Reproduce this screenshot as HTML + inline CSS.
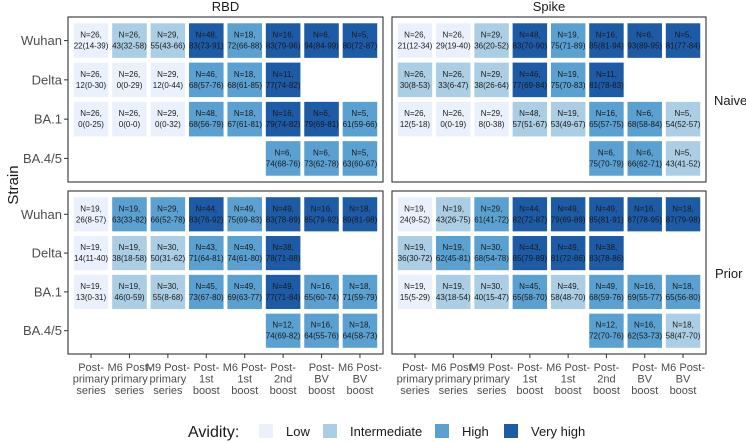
<!DOCTYPE html>
<html><head><meta charset="utf-8"><style>
body{margin:0;background:#fff}
svg{display:block;font-family:"Liberation Sans",Arial,sans-serif}
</style></head><body>
<svg id="chart" width="746" height="442" viewBox="0 0 746 442" xmlns="http://www.w3.org/2000/svg"></svg>
<script>
const strains = ["Wuhan","Delta","BA.1","BA.4/5"];
const timepoints = [["Post-","primary","series"],["M6 Post-","primary","series"],["M9 Post-","primary","series"],["Post-","1st","boost"],["M6 Post-","1st","boost"],["Post-","2nd","boost"],["Post-","BV","boost"],["M6 Post-","BV","boost"]];
const avidityLevels = ["Low","Intermediate","High","Very high"];
// each cell: [strainIndex, timepointIndex, N, label, levelIndex]
const rbdNaive = [
[0,0,26,"22(14-39)",0],[0,1,26,"43(32-58)",1],[0,2,29,"55(43-66)",1],[0,3,48,"83(73-91)",3],[0,4,18,"72(66-88)",2],[0,5,16,"83(79-96)",3],[0,6,6,"94(84-99)",3],[0,7,5,"80(72-87)",3],
[1,0,26,"12(0-30)",0],[1,1,26,"0(0-29)",0],[1,2,29,"12(0-44)",0],[1,3,46,"68(57-76)",2],[1,4,18,"68(61-85)",2],[1,5,11,"77(74-82)",3],
[2,0,26,"0(0-25)",0],[2,1,26,"0(0-0)",0],[2,2,29,"0(0-32)",0],[2,3,48,"68(56-79)",2],[2,4,18,"67(61-81)",2],[2,5,16,"79(74-82)",3],[2,6,6,"79(69-81)",3],[2,7,5,"61(59-66)",2],
[3,5,6,"74(68-76)",2],[3,6,6,"73(62-78)",2],[3,7,5,"63(60-67)",2]];
const rbdPrior = [
[0,0,19,"26(8-57)",0],[0,1,19,"63(33-82)",2],[0,2,29,"66(52-78)",2],[0,3,44,"83(76-92)",3],[0,4,49,"75(69-83)",2],[0,5,49,"83(78-89)",3],[0,6,16,"85(79-92)",3],[0,7,18,"89(81-98)",3],
[1,0,19,"14(11-40)",0],[1,1,19,"38(18-58)",1],[1,2,30,"50(31-62)",1],[1,3,43,"71(64-81)",2],[1,4,49,"74(61-80)",2],[1,5,38,"78(71-88)",3],
[2,0,19,"13(0-31)",0],[2,1,19,"46(0-59)",1],[2,2,30,"55(8-68)",1],[2,3,45,"73(67-80)",2],[2,4,49,"69(63-77)",2],[2,5,49,"77(71-84)",3],[2,6,16,"65(60-74)",2],[2,7,18,"71(59-79)",2],
[3,5,12,"74(69-82)",2],[3,6,16,"64(55-76)",2],[3,7,18,"64(58-73)",2]];
const spikeNaive = [
[0,0,26,"21(12-34)",0],[0,1,26,"29(19-40)",0],[0,2,29,"36(20-52)",1],[0,3,48,"83(70-90)",3],[0,4,19,"75(71-89)",2],[0,5,16,"85(81-94)",3],[0,6,6,"93(89-95)",3],[0,7,5,"81(77-84)",3],
[1,0,26,"30(8-53)",1],[1,1,26,"33(6-47)",1],[1,2,29,"38(26-64)",1],[1,3,46,"77(69-84)",3],[1,4,19,"75(70-83)",2],[1,5,11,"81(78-83)",3],
[2,0,26,"12(5-18)",0],[2,1,26,"0(0-19)",0],[2,2,29,"8(0-38)",0],[2,3,48,"57(51-67)",1],[2,4,19,"53(49-67)",1],[2,5,16,"65(57-75)",2],[2,6,6,"68(58-84)",2],[2,7,5,"54(52-57)",1],
[3,5,6,"75(70-79)",2],[3,6,6,"66(62-71)",2],[3,7,5,"43(41-52)",1]];
const spikePrior = [
[0,0,19,"24(9-52)",0],[0,1,19,"43(26-75)",1],[0,2,29,"61(41-72)",2],[0,3,44,"82(72-87)",3],[0,4,49,"79(69-89)",3],[0,5,49,"85(81-91)",3],[0,6,16,"87(78-95)",3],[0,7,18,"87(79-98)",3],
[1,0,19,"36(30-72)",1],[1,1,19,"62(45-81)",2],[1,2,30,"68(54-78)",2],[1,3,43,"85(79-89)",3],[1,4,49,"81(72-86)",3],[1,5,38,"83(78-86)",3],
[2,0,19,"15(5-29)",0],[2,1,19,"43(18-54)",1],[2,2,30,"40(15-47)",1],[2,3,45,"65(58-70)",2],[2,4,49,"58(48-70)",1],[2,5,49,"68(59-76)",2],[2,6,16,"69(55-77)",2],[2,7,18,"65(56-80)",2],
[3,5,12,"72(70-76)",2],[3,6,16,"62(53-73)",2],[3,7,18,"58(47-70)",1]];

const colors = ["#ebf1fc","#abcee4","#5aa0d0","#1d5ba7"];
const svg = document.getElementById('chart');
const NS = "http://www.w3.org/2000/svg";
function mk(tag, attrs, parent){const e=document.createElementNS(NS,tag);for(const k in attrs)e.setAttribute(k,attrs[k]);(parent||svg).appendChild(e);return e;}
function txt(s, attrs, parent){const e=mk('text',attrs,parent);e.textContent=s;return e;}

const panels = [
 {name:"rbd-naive", data:rbdNaive, x0:68, x1:383, y0:17, y1:182},
 {name:"spike-naive", data:spikeNaive, x0:392, x1:706, y0:17, y1:182},
 {name:"rbd-prior", data:rbdPrior, x0:68, x1:383, y0:191, y1:354},
 {name:"spike-prior", data:spikePrior, x0:392, x1:706, y0:191, y1:354}];

function xScale(p,i){const u=(p.x1-p.x0)/(timepoints.length-1+1.2);return p.x0+(0.6+i)*u;}
function yScale(p,j){const u=(p.y1-p.y0)/(strains.length-1+1.2);return p.y0+(0.6+j)*u;}

panels.forEach(p=>{
  const g=mk('g',{});
  
  
  const ux=(p.x1-p.x0)/(timepoints.length+0.2), uy=(p.y1-p.y0)/(strains.length+0.2);
  const w=ux*0.9, h=uy*0.88;
  p.data.forEach(d=>{
    const cx=xScale(p,d[1]), cy=yScale(p,d[0]);
    const cg=mk('g',{},g);
    
    
    mk('rect',{x:cx-w/2,y:cy-h/2,width:w,height:h,fill:colors[d[4]]},cg);
    txt("N="+d[2]+",",{x:cx,y:cy-3,'text-anchor':'middle','font-size':8,fill:'#1a1a1a'},cg);
    txt(d[3],{x:cx,y:cy+8,'text-anchor':'middle','font-size':8,fill:'#1a1a1a'},cg);
  });
  mk('rect',{x:p.x0,y:p.y0,width:p.x1-p.x0,height:p.y1-p.y0,fill:'none',stroke:'#333',"stroke-width":1.1},g);
});

// y axis
[panels[0],panels[2]].forEach(p=>{
  strains.forEach((s,j)=>{
    const y=yScale(p,j);
    mk('line',{x1:p.x0-4,x2:p.x0,y1:y,y2:y,stroke:'#333'});
    const t=txt(s,{x:p.x0-6,y:y+4.5,'text-anchor':'end','font-size':13,fill:'#4d4d4d'});
    
    
  });
});
// x axis
[panels[2],panels[3]].forEach(p=>{
  timepoints.forEach((lines,i)=>{
    const x=xScale(p,i);
    mk('line',{x1:x,x2:x,y1:p.y1,y2:p.y1+4,stroke:'#333'});
    const t=txt('',{x:x,'text-anchor':'middle','font-size':11,fill:'#4d4d4d'});
    
    
    lines.forEach((l,k)=>{const ts=mk('tspan',{x:x,y:371+k*11.5},t);ts.textContent=l;});
  });
});
const st=txt("Strain",{x:0,y:0,transform:"translate(18,185) rotate(-90)",'text-anchor':'middle','font-size':15,fill:'#1a1a1a'});

const f1=txt("RBD",{x:225.5,y:11,'text-anchor':'middle','font-size':13,fill:'#1a1a1a'});

const f2=txt("Spike",{x:549,y:11,'text-anchor':'middle','font-size':13,fill:'#1a1a1a'});

const f3=txt("Naive",{x:714,y:105,'font-size':13,fill:'#1a1a1a'});

const f4=txt("Prior",{x:715,y:278,'font-size':13,fill:'#1a1a1a'});


// legend
const lg=mk('g',{});

txt("Avidity:",{x:188,y:437,'font-size':16,fill:'#1a1a1a'},lg);
const keyX=[259,323,435,504];
avidityLevels.forEach((l,i)=>{
  const e=mk('g',{},lg);
  
  
  mk('rect',{x:keyX[i],y:424,width:14,height:14,fill:colors[i]},e);
  txt(l,{x:keyX[i]+27,y:436,'font-size':13,fill:'#1a1a1a'},e);
});
</script>
</body></html>
